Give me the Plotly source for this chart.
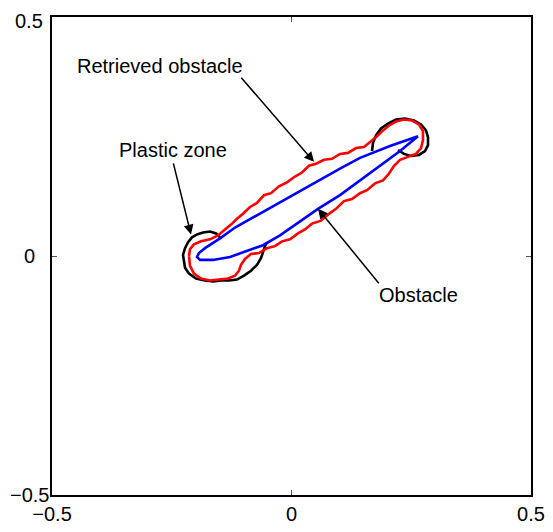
import plotly.graph_objects as go

# Obstacle (blue), closed curve
obstacle_x = [0.2641, 0.2056, 0.1430, 0.1013, 0.0177, -0.0658, -0.1179, -0.1492, -0.1806, -0.1932, -0.1973,
              -0.1910, -0.1639, -0.1284, -0.0929, -0.0595, -0.0240, 0.0177, 0.0553, 0.1013, 0.1430, 0.1848, 0.2266, 0.2641]
obstacle_y = [0.2505, 0.2300, 0.2053, 0.1828, 0.1355, 0.0883, 0.0595, 0.0370, 0.0164, 0.0062, -0.0021,
              -0.0082, -0.0082, -0.0021, 0.0103, 0.0226, 0.0431, 0.0719, 0.0986, 0.1273, 0.1581, 0.1889, 0.2197, 0.2505]

# Retrieved obstacle (red), closed wavy curve
retrieved_x = [-0.2140, -0.2119, -0.2035, -0.1889, -0.1702, -0.1534, -0.1389, -0.1263, -0.1138, -0.1013,
               -0.0866, -0.0721, -0.0574, -0.0428, -0.0261, -0.0095, 0.0073, 0.0219, 0.0365, 0.0512,
               0.0678, 0.0846, 0.1013, 0.1180, 0.1346, 0.1514, 0.1660, 0.1786, 0.1911, 0.2036,
               0.2182, 0.2349, 0.2516, 0.2662, 0.2745, 0.2745, 0.2704, 0.2599, 0.2432, 0.2266,
               0.2141, 0.2036, 0.1911, 0.1743, 0.1576, 0.1430, 0.1263, 0.1096, 0.0929, 0.0783,
               0.0616, 0.0428, 0.0282, 0.0135, -0.0031, -0.0198, -0.0345, -0.0511, -0.0679, -0.0846,
               -0.0971, -0.1054, -0.1096, -0.1179, -0.1326, -0.1514, -0.1702, -0.1889, -0.2035, -0.2119, -0.2140]
retrieved_y = [0.0000, 0.0144, 0.0246, 0.0308, 0.0349, 0.0431, 0.0554, 0.0657, 0.0780, 0.0883,
               0.1026, 0.1109, 0.1273, 0.1315, 0.1457, 0.1541, 0.1663, 0.1746, 0.1889, 0.1931,
               0.2012, 0.2033, 0.2135, 0.2157, 0.2258, 0.2280, 0.2402, 0.2505, 0.2628, 0.2731,
               0.2813, 0.2854, 0.2834, 0.2752, 0.2608, 0.2423, 0.2259, 0.2136, 0.2074, 0.2012,
               0.1889, 0.1725, 0.1581, 0.1519, 0.1376, 0.1314, 0.1192, 0.1149, 0.0986, 0.0882,
               0.0740, 0.0677, 0.0555, 0.0472, 0.0350, 0.0307, 0.0206, 0.0164, 0.0062, 0.0041,
               -0.0062, -0.0185, -0.0308, -0.0411, -0.0472, -0.0493, -0.0513, -0.0472, -0.0370, -0.0205, 0.0000]

# Plastic zone (black), two open curves
plastic1_x = [-0.1492, -0.1576, -0.1702, -0.1847, -0.1973, -0.2077, -0.2160, -0.2223, -0.2265, -0.2245,
              -0.2223, -0.2140, -0.1993, -0.1806, -0.1639, -0.1472, -0.1305, -0.1138, -0.0991, -0.0846,
              -0.0721, -0.0636, -0.0595, -0.0553, -0.0511]
plastic1_y = [0.0390, 0.0472, 0.0513, 0.0493, 0.0452, 0.0390, 0.0287, 0.0164, 0.0021, -0.0103,
              -0.0246, -0.0370, -0.0472, -0.0513, -0.0534, -0.0513, -0.0513, -0.0493, -0.0411, -0.0308,
              -0.0185, -0.0041, 0.0103, 0.0205, 0.0287]
plastic2_x = [0.1681, 0.1701, 0.1764, 0.1869, 0.2014, 0.2182, 0.2369, 0.2557, 0.2704, 0.2808,
              0.2850, 0.2850, 0.2787, 0.2662, 0.2495, 0.2349, 0.2224]
plastic2_y = [0.2197, 0.2361, 0.2526, 0.2669, 0.2772, 0.2854, 0.2875, 0.2834, 0.2752, 0.2628,
              0.2485, 0.2320, 0.2197, 0.2115, 0.2094, 0.2136, 0.2218]

# Labels with arrows: text position, arrow tail, arrow tip
label_texts = ["Retrieved obstacle", "Plastic zone", "Obstacle"]
label_pos_x = [-0.2745, -0.2474, 0.2641]
label_pos_y = [0.398, 0.222, -0.082]
arrow_tail_x = [-0.1075, -0.2474, 0.1848]
arrow_tail_y = [0.376, 0.197, -0.060]
arrow_tip_x = [0.0470, -0.2098, 0.0553]
arrow_tip_y = [0.197, 0.045, 0.0986]

tick_vals = [-0.5, 0, 0.5]
tick_text = ["−0.5", "0", "0.5"]

FONT = "Liberation Sans, Arial, sans-serif"
FS = 20

fig = go.Figure()
fig.add_trace(go.Scatter(x=plastic1_x, y=plastic1_y, mode="lines",
                         line=dict(color="black", width=2.6), showlegend=False))
fig.add_trace(go.Scatter(x=plastic2_x, y=plastic2_y, mode="lines",
                         line=dict(color="black", width=2.6), showlegend=False))
fig.add_trace(go.Scatter(x=retrieved_x, y=retrieved_y, mode="lines",
                         line=dict(color="#ff0000", width=2.6), showlegend=False))
fig.add_trace(go.Scatter(x=obstacle_x, y=obstacle_y, mode="lines",
                         line=dict(color="#0000ff", width=2.6), showlegend=False))

annotations = []
for t, lx, ly in zip(label_texts, label_pos_x, label_pos_y):
    annotations.append(dict(x=lx, y=ly, xref="x", yref="y", text=t, showarrow=False,
                            font=dict(family=FONT, size=FS, color="black"),
                            xanchor="center", yanchor="middle"))
for tx, ty, hx, hy in zip(arrow_tail_x, arrow_tail_y, arrow_tip_x, arrow_tip_y):
    annotations.append(dict(x=hx, y=hy, xref="x", yref="y", ax=tx, ay=ty, axref="x", ayref="y",
                            text="", showarrow=True, arrowhead=2, arrowsize=1.3, arrowwidth=1.5,
                            arrowcolor="black", standoff=0, startstandoff=0))
for v, t in zip(tick_vals, tick_text):
    annotations.append(dict(x=0, y=v, xref="paper", yref="y", text=t, showarrow=False,
                            font=dict(family=FONT, size=FS, color="black"),
                            xanchor="center", yanchor="middle", xshift=-23,
                            yshift=(-4 if v == max(tick_vals) else 0)))

axis_common = dict(range=[-0.5, 0.5], tickvals=tick_vals, showgrid=False, zeroline=False,
                   showline=True, linecolor="black", linewidth=1.5, mirror="ticks",
                   ticks="inside", ticklen=5, tickwidth=1, tickcolor="#555555")

# page body has a default 8px margin; the figure is sized/offset to compensate
fig.update_layout(
    width=545, height=524,
    margin=dict(l=44, r=22, t=7, b=30),
    plot_bgcolor="white", paper_bgcolor="white",
    font=dict(family=FONT, size=FS, color="black"),
    xaxis=dict(**axis_common, ticktext=tick_text, tickfont=dict(family=FONT, size=FS, color="black")),
    yaxis=dict(**axis_common, showticklabels=False),
    annotations=annotations,
    showlegend=False,
)

fig.write_html("out.html")
